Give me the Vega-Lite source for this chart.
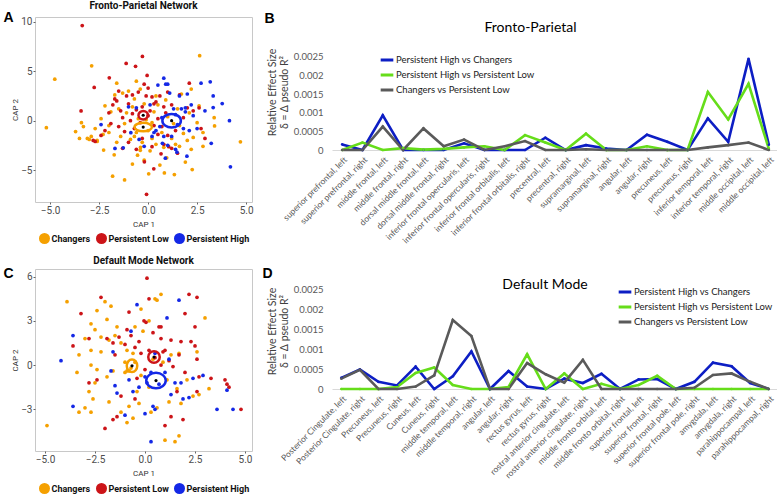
{
  "$schema": "https://vega.github.io/schema/vega-lite/v6.json",
  "autosize": {"type": "pad"},
  "padding": {"left": 2, "top": 0, "right": 0, "bottom": 0},
  "background": "white",
  "columns": 2,
  "bounds": "flush",
  "align": "each",
  "spacing": {"row": 67, "column": 80},
  "resolve": {"scale": {"color": "independent"}, "legend": {"color": "independent"}},
  "config": {"view": {"stroke": null}, "axis": {"grid": false}},
  "datasets": {
    "fpPoints": [
      {"x":-4.76,"y":4.2,"group":"Changers"},{"x":-5.19,"y":-0.71,"group":"Changers"},{"x":-2.88,"y":5.56,"group":"Changers"},{"x":2.63,"y":6.58,"group":"Changers"},{"x":4.71,"y":-2.14,"group":"Changers"},{"x":3.39,"y":-0.54,"group":"Changers"},{"x":3.37,"y":0.3,"group":"Changers"},{"x":2.25,"y":-4.95,"group":"Changers"},{"x":1.34,"y":-5.46,"group":"Changers"},{"x":0.83,"y":-5.29,"group":"Changers"},{"x":0.03,"y":-5.39,"group":"Changers"},{"x":-1.81,"y":-5.63,"group":"Changers"},{"x":-1.2,"y":-6.0,"group":"Changers"},{"x":-1.73,"y":-3.46,"group":"Changers"},{"x":-2.27,"y":-2.98,"group":"Changers"},{"x":-0.54,"y":-3.5,"group":"Changers"},{"x":0.95,"y":-3.76,"group":"Changers"},{"x":0.1,"y":-3.05,"group":"Changers"},{"x":-0.39,"y":-2.71,"group":"Changers"},{"x":-3.7,"y":-1.1,"group":"Changers"},{"x":-3.4,"y":-0.2,"group":"Changers"},{"x":-3.3,"y":-0.6,"group":"Changers"},{"x":-3.1,"y":-1.8,"group":"Changers"},{"x":-2.9,"y":-1.6,"group":"Changers"},{"x":-2.7,"y":-0.8,"group":"Changers"},{"x":-2.6,"y":-2.0,"group":"Changers"},{"x":-2.4,"y":0.2,"group":"Changers"},{"x":-2.3,"y":-1.4,"group":"Changers"},{"x":-2.2,"y":1.5,"group":"Changers"},{"x":-2.0,"y":-0.5,"group":"Changers"},{"x":-1.9,"y":0.9,"group":"Changers"},{"x":-1.7,"y":2.6,"group":"Changers"},{"x":-1.5,"y":1.2,"group":"Changers"},{"x":-1.4,"y":-1.6,"group":"Changers"},{"x":-1.3,"y":2.8,"group":"Changers"},{"x":-1.2,"y":-0.3,"group":"Changers"},{"x":-1.0,"y":3.0,"group":"Changers"},{"x":-0.9,"y":-1.9,"group":"Changers"},{"x":-0.8,"y":1.4,"group":"Changers"},{"x":-0.7,"y":2.2,"group":"Changers"},{"x":-0.6,"y":-1.2,"group":"Changers"},{"x":-0.5,"y":0.2,"group":"Changers"},{"x":-0.4,"y":3.2,"group":"Changers"},{"x":-0.3,"y":-2.2,"group":"Changers"},{"x":-0.2,"y":1.7,"group":"Changers"},{"x":0.0,"y":-1.0,"group":"Changers"},{"x":0.2,"y":-1.8,"group":"Changers"},{"x":0.3,"y":0.9,"group":"Changers"},{"x":0.4,"y":-2.4,"group":"Changers"},{"x":0.5,"y":1.6,"group":"Changers"},{"x":0.7,"y":-1.2,"group":"Changers"},{"x":0.8,"y":-2.7,"group":"Changers"},{"x":1.0,"y":0.4,"group":"Changers"},{"x":1.2,"y":-1.8,"group":"Changers"},{"x":1.4,"y":-2.4,"group":"Changers"},{"x":1.5,"y":1.2,"group":"Changers"},{"x":1.6,"y":-0.5,"group":"Changers"},{"x":1.7,"y":2.7,"group":"Changers"},{"x":1.8,"y":-1.3,"group":"Changers"},{"x":2.0,"y":-2.0,"group":"Changers"},{"x":2.1,"y":0.8,"group":"Changers"},{"x":2.2,"y":3.2,"group":"Changers"},{"x":2.3,"y":-1.7,"group":"Changers"},{"x":2.5,"y":-0.2,"group":"Changers"},{"x":2.6,"y":1.5,"group":"Changers"},{"x":2.8,"y":-1.2,"group":"Changers"},{"x":2.2,"y":-2.9,"group":"Changers"},{"x":1.9,"y":-4.2,"group":"Changers"},{"x":0.6,"y":-4.5,"group":"Changers"},{"x":-0.8,"y":-4.4,"group":"Changers"},{"x":-1.6,"y":-2.2,"group":"Changers"},{"x":-2.6,"y":-2.1,"group":"Changers"},{"x":-3.0,"y":-1.9,"group":"Changers"},{"x":-3.5,"y":-1.8,"group":"Changers"},{"x":0.2,"y":-0.2,"group":"Changers"},{"x":-0.1,"y":0.1,"group":"Changers"},{"x":-1.1,"y":0.8,"group":"Changers"},{"x":0.9,"y":2.1,"group":"Changers"},{"x":1.3,"y":-0.3,"group":"Changers"},{"x":0.4,"y":2.5,"group":"Changers"},{"x":-0.6,"y":4.0,"group":"Changers"},{"x":-1.6,"y":3.8,"group":"Changers"},{"x":-2.0,"y":-1.2,"group":"Changers"},{"x":-0.2,"y":-4.0,"group":"Changers"},{"x":1.6,"y":-2.6,"group":"Changers"},{"x":2.8,"y":-2.6,"group":"Changers"},{"x":-0.4,"y":-3.0,"group":"Changers"},{"x":-0.7,"y":-1.6,"group":"Changers"},
      {"x":-3.36,"y":9.63,"group":"Persistent Low"},{"x":-0.29,"y":6.5,"group":"Persistent Low"},{"x":-1.12,"y":5.8,"group":"Persistent Low"},{"x":-0.64,"y":5.5,"group":"Persistent Low"},{"x":-1.98,"y":4.34,"group":"Persistent Low"},{"x":-0.05,"y":4.58,"group":"Persistent Low"},{"x":-2.75,"y":3.36,"group":"Persistent Low"},{"x":-3.42,"y":0.98,"group":"Persistent Low"},{"x":0.29,"y":-4.88,"group":"Persistent Low"},{"x":-0.19,"y":-4.17,"group":"Persistent Low"},{"x":-0.08,"y":-7.46,"group":"Persistent Low"},{"x":0.66,"y":-3.36,"group":"Persistent Low"},{"x":1.05,"y":-2.64,"group":"Persistent Low"},{"x":0.2,"y":-2.64,"group":"Persistent Low"},{"x":-2.8,"y":-2.0,"group":"Persistent Low"},{"x":-2.7,"y":-2.1,"group":"Persistent Low"},{"x":-2.2,"y":-1.0,"group":"Persistent Low"},{"x":-2.0,"y":0.8,"group":"Persistent Low"},{"x":-1.9,"y":-0.3,"group":"Persistent Low"},{"x":-1.8,"y":1.6,"group":"Persistent Low"},{"x":-1.7,"y":2.2,"group":"Persistent Low"},{"x":-1.6,"y":2.0,"group":"Persistent Low"},{"x":-1.5,"y":-0.6,"group":"Persistent Low"},{"x":-1.4,"y":1.0,"group":"Persistent Low"},{"x":-1.3,"y":0.3,"group":"Persistent Low"},{"x":-1.2,"y":-1.1,"group":"Persistent Low"},{"x":-1.1,"y":2.5,"group":"Persistent Low"},{"x":-1.0,"y":1.7,"group":"Persistent Low"},{"x":-0.9,"y":0.0,"group":"Persistent Low"},{"x":-0.8,"y":2.6,"group":"Persistent Low"},{"x":-0.7,"y":-0.8,"group":"Persistent Low"},{"x":-0.6,"y":1.1,"group":"Persistent Low"},{"x":-0.5,"y":2.9,"group":"Persistent Low"},{"x":-0.4,"y":-0.2,"group":"Persistent Low"},{"x":-0.3,"y":1.4,"group":"Persistent Low"},{"x":-0.2,"y":3.7,"group":"Persistent Low"},{"x":-0.1,"y":2.5,"group":"Persistent Low"},{"x":0.0,"y":0.5,"group":"Persistent Low"},{"x":0.1,"y":1.0,"group":"Persistent Low"},{"x":0.2,"y":2.4,"group":"Persistent Low"},{"x":0.3,"y":-0.5,"group":"Persistent Low"},{"x":0.4,"y":1.9,"group":"Persistent Low"},{"x":0.5,"y":0.2,"group":"Persistent Low"},{"x":0.6,"y":2.5,"group":"Persistent Low"},{"x":0.7,"y":-0.6,"group":"Persistent Low"},{"x":0.8,"y":1.4,"group":"Persistent Low"},{"x":0.9,"y":0.8,"group":"Persistent Low"},{"x":1.0,"y":-1.5,"group":"Persistent Low"},{"x":1.2,"y":1.6,"group":"Persistent Low"},{"x":1.4,"y":-1.0,"group":"Persistent Low"},{"x":1.6,"y":2.6,"group":"Persistent Low"},{"x":1.8,"y":0.3,"group":"Persistent Low"},{"x":2.0,"y":1.3,"group":"Persistent Low"},{"x":2.1,"y":3.8,"group":"Persistent Low"},{"x":2.3,"y":1.0,"group":"Persistent Low"},{"x":2.7,"y":-0.8,"group":"Persistent Low"},{"x":2.9,"y":-1.8,"group":"Persistent Low"},{"x":0.8,"y":-2.4,"group":"Persistent Low"},{"x":1.5,"y":-3.3,"group":"Persistent Low"},{"x":-0.6,"y":-2.9,"group":"Persistent Low"},{"x":-1.0,"y":-2.2,"group":"Persistent Low"},{"x":-2.4,"y":-1.5,"group":"Persistent Low"},{"x":-1.3,"y":-2.8,"group":"Persistent Low"},{"x":0.5,"y":-1.4,"group":"Persistent Low"},{"x":-0.3,"y":-1.8,"group":"Persistent Low"},{"x":1.2,"y":-2.8,"group":"Persistent Low"},{"x":2.6,"y":1.3,"group":"Persistent Low"},{"x":0.0,"y":3.3,"group":"Persistent Low"},{"x":-1.5,"y":3.0,"group":"Persistent Low"},{"x":-0.8,"y":0.7,"group":"Persistent Low"},{"x":1.0,"y":2.9,"group":"Persistent Low"},{"x":0.3,"y":1.7,"group":"Persistent Low"},
      {"x":4.15,"y":0.0,"group":"Persistent High"},{"x":4.2,"y":-4.68,"group":"Persistent High"},{"x":3.17,"y":3.93,"group":"Persistent High"},{"x":3.78,"y":1.73,"group":"Persistent High"},{"x":3.32,"y":1.32,"group":"Persistent High"},{"x":3.32,"y":2.5,"group":"Persistent High"},{"x":3.22,"y":-2.3,"group":"Persistent High"},{"x":1.98,"y":-3.6,"group":"Persistent High"},{"x":-1.69,"y":-2.81,"group":"Persistent High"},{"x":-1.27,"y":-2.75,"group":"Persistent High"},{"x":0.88,"y":-3.8,"group":"Persistent High"},{"x":1.47,"y":-3.19,"group":"Persistent High"},{"x":0.73,"y":-2.3,"group":"Persistent High"},{"x":-0.46,"y":-1.9,"group":"Persistent High"},{"x":-0.88,"y":-1.22,"group":"Persistent High"},{"x":-2.4,"y":-0.4,"group":"Persistent High"},{"x":-1.0,"y":1.4,"group":"Persistent High"},{"x":-0.6,"y":1.3,"group":"Persistent High"},{"x":0.1,"y":1.6,"group":"Persistent High"},{"x":0.3,"y":-1.2,"group":"Persistent High"},{"x":0.4,"y":-1.0,"group":"Persistent High"},{"x":0.6,"y":-0.6,"group":"Persistent High"},{"x":0.5,"y":3.6,"group":"Persistent High"},{"x":0.8,"y":4.3,"group":"Persistent High"},{"x":0.9,"y":3.7,"group":"Persistent High"},{"x":1.0,"y":3.7,"group":"Persistent High"},{"x":1.1,"y":2.8,"group":"Persistent High"},{"x":1.3,"y":1.2,"group":"Persistent High"},{"x":1.4,"y":0.6,"group":"Persistent High"},{"x":1.5,"y":-0.4,"group":"Persistent High"},{"x":1.6,"y":2.5,"group":"Persistent High"},{"x":1.7,"y":1.2,"group":"Persistent High"},{"x":1.8,"y":-0.8,"group":"Persistent High"},{"x":1.9,"y":0.9,"group":"Persistent High"},{"x":2.0,"y":2.7,"group":"Persistent High"},{"x":2.1,"y":-1.0,"group":"Persistent High"},{"x":2.3,"y":0.5,"group":"Persistent High"},{"x":2.5,"y":-0.8,"group":"Persistent High"},{"x":2.7,"y":3.8,"group":"Persistent High"},{"x":2.9,"y":1.0,"group":"Persistent High"},{"x":1.2,"y":-1.6,"group":"Persistent High"},{"x":0.8,"y":-1.6,"group":"Persistent High"},{"x":0.2,"y":-1.6,"group":"Persistent High"},{"x":-0.2,"y":-2.6,"group":"Persistent High"},{"x":1.0,"y":-2.5,"group":"Persistent High"},{"x":1.9,"y":1.3,"group":"Persistent High"},{"x":0.7,"y":0.3,"group":"Persistent High"},{"x":2.2,"y":1.6,"group":"Persistent High"},{"x":1.4,"y":-2.9,"group":"Persistent High"}
    ],
    "fpCentroids": [
      {"x":-0.25,"y":-0.65,"cluster":"Changers"},{"x":-0.25,"y":0.55,"cluster":"Persistent Low"},{"x":1.2,"y":0.0,"cluster":"Persistent High"}
    ],
    "dmPoints": [
      {"x":-4.9,"y":-4.1,"group":"Changers"},{"x":-3.9,"y":4.3,"group":"Changers"},{"x":-2.0,"y":4.3,"group":"Changers"},{"x":-2.4,"y":3.7,"group":"Changers"},{"x":-2.7,"y":2.8,"group":"Changers"},{"x":-2.5,"y":2.4,"group":"Changers"},{"x":-3.0,"y":1.8,"group":"Changers"},{"x":-2.2,"y":1.9,"group":"Changers"},{"x":-2.7,"y":1.0,"group":"Changers"},{"x":-3.3,"y":0.7,"group":"Changers"},{"x":-3.4,"y":-0.5,"group":"Changers"},{"x":-2.7,"y":0.0,"group":"Changers"},{"x":-2.2,"y":0.9,"group":"Changers"},{"x":-1.8,"y":1.7,"group":"Changers"},{"x":-1.5,"y":2.0,"group":"Changers"},{"x":-1.2,"y":1.5,"group":"Changers"},{"x":-0.9,"y":1.0,"group":"Changers"},{"x":-0.6,"y":0.8,"group":"Changers"},{"x":-1.0,"y":0.2,"group":"Changers"},{"x":-1.6,"y":-0.4,"group":"Changers"},{"x":-1.9,"y":-0.8,"group":"Changers"},{"x":-2.5,"y":-1.2,"group":"Changers"},{"x":-2.8,"y":-1.8,"group":"Changers"},{"x":-2.6,"y":-2.3,"group":"Changers"},{"x":-3.0,"y":-2.9,"group":"Changers"},{"x":-3.3,"y":-3.2,"group":"Changers"},{"x":-2.7,"y":-3.2,"group":"Changers"},{"x":-1.8,"y":-2.5,"group":"Changers"},{"x":-1.2,"y":-3.2,"group":"Changers"},{"x":-0.6,"y":-3.6,"group":"Changers"},{"x":-0.8,"y":-2.8,"group":"Changers"},{"x":-0.3,"y":-2.6,"group":"Changers"},{"x":-0.9,"y":-3.9,"group":"Changers"},{"x":1.0,"y":-5.1,"group":"Changers"},{"x":1.5,"y":-5.2,"group":"Changers"},{"x":1.7,"y":-4.8,"group":"Changers"},{"x":0.3,"y":-3.2,"group":"Changers"},{"x":0.6,"y":-2.9,"group":"Changers"},{"x":1.2,"y":-2.5,"group":"Changers"},{"x":1.8,"y":-2.6,"group":"Changers"},{"x":2.4,"y":-2.1,"group":"Changers"},{"x":3.2,"y":-1.6,"group":"Changers"},{"x":2.1,"y":-1.0,"group":"Changers"},{"x":1.6,"y":-1.6,"group":"Changers"},{"x":1.1,"y":-1.0,"group":"Changers"},{"x":0.2,"y":-1.5,"group":"Changers"},{"x":-0.4,"y":-1.8,"group":"Changers"},{"x":-0.2,"y":-0.7,"group":"Changers"},{"x":-1.0,"y":-0.5,"group":"Changers"},{"x":-0.9,"y":-0.4,"group":"Changers"},{"x":-0.7,"y":-0.2,"group":"Changers"},{"x":0.4,"y":0.4,"group":"Changers"},{"x":0.9,"y":0.2,"group":"Changers"},{"x":1.3,"y":0.7,"group":"Changers"},{"x":1.7,"y":0.8,"group":"Changers"},{"x":2.6,"y":0.9,"group":"Changers"},{"x":3.0,"y":3.2,"group":"Changers"},{"x":0.8,"y":4.8,"group":"Changers"},{"x":0.6,"y":4.4,"group":"Changers"},{"x":0.5,"y":4.5,"group":"Changers"},{"x":-0.2,"y":3.8,"group":"Changers"},{"x":0.2,"y":3.0,"group":"Changers"},{"x":-0.5,"y":2.6,"group":"Changers"},{"x":-0.1,"y":2.3,"group":"Changers"},{"x":-1.7,"y":4.0,"group":"Changers"},{"x":-1.9,"y":3.1,"group":"Changers"},{"x":-1.4,"y":2.6,"group":"Changers"},{"x":-0.8,"y":-0.4,"group":"Changers"},{"x":-0.5,"y":0.2,"group":"Changers"},{"x":2.7,"y":-2.0,"group":"Changers"},{"x":-2.4,"y":-0.3,"group":"Changers"},
      {"x":0.1,"y":5.9,"group":"Persistent Low"},{"x":2.2,"y":4.8,"group":"Persistent Low"},{"x":2.6,"y":4.6,"group":"Persistent Low"},{"x":-2.2,"y":4.6,"group":"Persistent Low"},{"x":0.2,"y":4.5,"group":"Persistent Low"},{"x":-3.2,"y":3.5,"group":"Persistent Low"},{"x":-0.8,"y":3.6,"group":"Persistent Low"},{"x":-0.05,"y":3.0,"group":"Persistent Low"},{"x":0.05,"y":2.9,"group":"Persistent Low"},{"x":0.7,"y":2.6,"group":"Persistent Low"},{"x":0.8,"y":2.6,"group":"Persistent Low"},{"x":2.0,"y":3.5,"group":"Persistent Low"},{"x":2.5,"y":2.6,"group":"Persistent Low"},{"x":-1.9,"y":1.8,"group":"Persistent Low"},{"x":-2.8,"y":1.8,"group":"Persistent Low"},{"x":-3.6,"y":1.3,"group":"Persistent Low"},{"x":-1.6,"y":1.5,"group":"Persistent Low"},{"x":-1.3,"y":1.9,"group":"Persistent Low"},{"x":-1.0,"y":1.4,"group":"Persistent Low"},{"x":-0.7,"y":2.0,"group":"Persistent Low"},{"x":-0.3,"y":1.6,"group":"Persistent Low"},{"x":0.4,"y":2.2,"group":"Persistent Low"},{"x":0.8,"y":1.8,"group":"Persistent Low"},{"x":1.3,"y":1.7,"group":"Persistent Low"},{"x":1.8,"y":1.6,"group":"Persistent Low"},{"x":2.3,"y":1.6,"group":"Persistent Low"},{"x":2.5,"y":1.3,"group":"Persistent Low"},{"x":-0.5,"y":1.2,"group":"Persistent Low"},{"x":0.2,"y":1.0,"group":"Persistent Low"},{"x":0.9,"y":0.9,"group":"Persistent Low"},{"x":1.2,"y":0.3,"group":"Persistent Low"},{"x":1.7,"y":0.7,"group":"Persistent Low"},{"x":2.6,"y":0.4,"group":"Persistent Low"},{"x":0.8,"y":0.0,"group":"Persistent Low"},{"x":1.4,"y":-0.1,"group":"Persistent Low"},{"x":2.0,"y":-0.5,"group":"Persistent Low"},{"x":2.7,"y":-0.8,"group":"Persistent Low"},{"x":3.3,"y":-0.9,"group":"Persistent Low"},{"x":4.0,"y":-1.0,"group":"Persistent Low"},{"x":4.1,"y":-1.3,"group":"Persistent Low"},{"x":4.2,"y":-1.5,"group":"Persistent Low"},{"x":4.8,"y":-3.0,"group":"Persistent Low"},{"x":1.3,"y":-3.5,"group":"Persistent Low"},{"x":1.9,"y":-3.7,"group":"Persistent Low"},{"x":1.0,"y":-4.1,"group":"Persistent Low"},{"x":-2.0,"y":-4.3,"group":"Persistent Low"},{"x":-1.4,"y":-3.5,"group":"Persistent Low"},{"x":-1.6,"y":-3.7,"group":"Persistent Low"},{"x":-0.5,"y":-2.3,"group":"Persistent Low"},{"x":-1.2,"y":-2.1,"group":"Persistent Low"},{"x":-2.4,"y":-1.0,"group":"Persistent Low"},{"x":-2.8,"y":-1.2,"group":"Persistent Low"},{"x":1.6,"y":-1.8,"group":"Persistent Low"},{"x":2.6,"y":-1.8,"group":"Persistent Low"},{"x":-0.4,"y":-0.9,"group":"Persistent Low"},{"x":0.0,"y":-0.3,"group":"Persistent Low"},{"x":1.0,"y":1.0,"group":"Persistent Low"},{"x":-1.5,"y":0.7,"group":"Persistent Low"},{"x":-0.9,"y":2.4,"group":"Persistent Low"},{"x":0.5,"y":0.5,"group":"Persistent Low"},{"x":-0.2,"y":0.8,"group":"Persistent Low"},
      {"x":-4.2,"y":0.3,"group":"Persistent High"},{"x":-3.6,"y":2.0,"group":"Persistent High"},{"x":-3.6,"y":-2.8,"group":"Persistent High"},{"x":-0.4,"y":4.1,"group":"Persistent High"},{"x":1.1,"y":3.2,"group":"Persistent High"},{"x":1.7,"y":4.4,"group":"Persistent High"},{"x":-0.7,"y":2.3,"group":"Persistent High"},{"x":-1.6,"y":0.9,"group":"Persistent High"},{"x":-1.7,"y":-0.4,"group":"Persistent High"},{"x":-1.5,"y":-1.4,"group":"Persistent High"},{"x":-1.4,"y":-1.9,"group":"Persistent High"},{"x":-1.0,"y":-3.4,"group":"Persistent High"},{"x":-0.8,"y":-1.0,"group":"Persistent High"},{"x":-0.3,"y":-1.5,"group":"Persistent High"},{"x":-0.6,"y":-1.8,"group":"Persistent High"},{"x":0.0,"y":-3.3,"group":"Persistent High"},{"x":0.4,"y":-2.8,"group":"Persistent High"},{"x":0.5,"y":-3.0,"group":"Persistent High"},{"x":0.1,"y":-1.2,"group":"Persistent High"},{"x":0.3,"y":-0.5,"group":"Persistent High"},{"x":0.5,"y":0.8,"group":"Persistent High"},{"x":1.0,"y":-0.5,"group":"Persistent High"},{"x":1.3,"y":-2.0,"group":"Persistent High"},{"x":1.5,"y":-1.2,"group":"Persistent High"},{"x":1.8,"y":-1.2,"group":"Persistent High"},{"x":1.9,"y":-2.3,"group":"Persistent High"},{"x":2.2,"y":-2.2,"group":"Persistent High"},{"x":2.9,"y":-0.7,"group":"Persistent High"},{"x":3.6,"y":-3.0,"group":"Persistent High"},{"x":4.1,"y":-1.7,"group":"Persistent High"},{"x":4.4,"y":-3.0,"group":"Persistent High"},{"x":0.3,"y":-5.2,"group":"Persistent High"},{"x":2.4,"y":-0.9,"group":"Persistent High"},{"x":0.7,"y":-1.3,"group":"Persistent High"},{"x":0.0,"y":-0.8,"group":"Persistent High"},{"x":1.2,"y":0.4,"group":"Persistent High"}
    ],
    "dmCentroids": [
      {"x":-0.65,"y":-0.05,"cluster":"Changers"},{"x":0.45,"y":0.55,"cluster":"Persistent Low"},{"x":0.55,"y":-1.05,"cluster":"Persistent High"}
    ],
    "fpEffects": [
      {"i":1,"region":"superior prefrontal, left","comparison":"Persistent High vs Changers","value":0.00015},{"i":1,"region":"superior prefrontal, left","comparison":"Persistent High vs Persistent Low","value":0},{"i":1,"region":"superior prefrontal, left","comparison":"Changers vs Persistent Low","value":0},
      {"i":2,"region":"superior prefrontal, right","comparison":"Persistent High vs Changers","value":0},{"i":2,"region":"superior prefrontal, right","comparison":"Persistent High vs Persistent Low","value":0.0002},{"i":2,"region":"superior prefrontal, right","comparison":"Changers vs Persistent Low","value":0},
      {"i":3,"region":"middle frontal, left","comparison":"Persistent High vs Changers","value":0.00093},{"i":3,"region":"middle frontal, left","comparison":"Persistent High vs Persistent Low","value":0},{"i":3,"region":"middle frontal, left","comparison":"Changers vs Persistent Low","value":0.00063},
      {"i":4,"region":"middle frontal, right","comparison":"Persistent High vs Changers","value":0},{"i":4,"region":"middle frontal, right","comparison":"Persistent High vs Persistent Low","value":0.00005},{"i":4,"region":"middle frontal, right","comparison":"Changers vs Persistent Low","value":0},
      {"i":5,"region":"dorsal middle frontal, left","comparison":"Persistent High vs Changers","value":0},{"i":5,"region":"dorsal middle frontal, left","comparison":"Persistent High vs Persistent Low","value":0.00001},{"i":5,"region":"dorsal middle frontal, left","comparison":"Changers vs Persistent Low","value":0.00058},
      {"i":6,"region":"dorsal middle frontal, right","comparison":"Persistent High vs Changers","value":0},{"i":6,"region":"dorsal middle frontal, right","comparison":"Persistent High vs Persistent Low","value":0.00003},{"i":6,"region":"dorsal middle frontal, right","comparison":"Changers vs Persistent Low","value":0.0001},
      {"i":7,"region":"inferior frontal opercularis, left","comparison":"Persistent High vs Changers","value":0.00018},{"i":7,"region":"inferior frontal opercularis, left","comparison":"Persistent High vs Persistent Low","value":0.00007},{"i":7,"region":"inferior frontal opercularis, left","comparison":"Changers vs Persistent Low","value":0.00028},
      {"i":8,"region":"inferior frontal opercularis, right","comparison":"Persistent High vs Changers","value":0},{"i":8,"region":"inferior frontal opercularis, right","comparison":"Persistent High vs Persistent Low","value":0.0001},{"i":8,"region":"inferior frontal opercularis, right","comparison":"Changers vs Persistent Low","value":0},
      {"i":9,"region":"inferior frontal orbitalis, left","comparison":"Persistent High vs Changers","value":0},{"i":9,"region":"inferior frontal orbitalis, left","comparison":"Persistent High vs Persistent Low","value":0},{"i":9,"region":"inferior frontal orbitalis, left","comparison":"Changers vs Persistent Low","value":0.0001},
      {"i":10,"region":"inferior frontal orbitalis, right","comparison":"Persistent High vs Changers","value":0},{"i":10,"region":"inferior frontal orbitalis, right","comparison":"Persistent High vs Persistent Low","value":0.0004},{"i":10,"region":"inferior frontal orbitalis, right","comparison":"Changers vs Persistent Low","value":0.00024},
      {"i":11,"region":"precentral, left","comparison":"Persistent High vs Changers","value":0.00033},{"i":11,"region":"precentral, left","comparison":"Persistent High vs Persistent Low","value":0.0002},{"i":11,"region":"precentral, left","comparison":"Changers vs Persistent Low","value":0},
      {"i":12,"region":"precentral, right","comparison":"Persistent High vs Changers","value":0},{"i":12,"region":"precentral, right","comparison":"Persistent High vs Persistent Low","value":0},{"i":12,"region":"precentral, right","comparison":"Changers vs Persistent Low","value":0},
      {"i":13,"region":"supramarginal, left","comparison":"Persistent High vs Changers","value":0.00013},{"i":13,"region":"supramarginal, left","comparison":"Persistent High vs Persistent Low","value":0.00044},{"i":13,"region":"supramarginal, left","comparison":"Changers vs Persistent Low","value":0.00002},
      {"i":14,"region":"supramarginal, right","comparison":"Persistent High vs Changers","value":0.00004},{"i":14,"region":"supramarginal, right","comparison":"Persistent High vs Persistent Low","value":0},{"i":14,"region":"supramarginal, right","comparison":"Changers vs Persistent Low","value":0},
      {"i":15,"region":"angular, left","comparison":"Persistent High vs Changers","value":0},{"i":15,"region":"angular, left","comparison":"Persistent High vs Persistent Low","value":0},{"i":15,"region":"angular, left","comparison":"Changers vs Persistent Low","value":0},
      {"i":16,"region":"angular, right","comparison":"Persistent High vs Changers","value":0.00041},{"i":16,"region":"angular, right","comparison":"Persistent High vs Persistent Low","value":0.0001},{"i":16,"region":"angular, right","comparison":"Changers vs Persistent Low","value":0},
      {"i":17,"region":"precuneus, left","comparison":"Persistent High vs Changers","value":0.00022},{"i":17,"region":"precuneus, left","comparison":"Persistent High vs Persistent Low","value":0},{"i":17,"region":"precuneus, left","comparison":"Changers vs Persistent Low","value":0},
      {"i":18,"region":"precuneus, right","comparison":"Persistent High vs Changers","value":0},{"i":18,"region":"precuneus, right","comparison":"Persistent High vs Persistent Low","value":0},{"i":18,"region":"precuneus, right","comparison":"Changers vs Persistent Low","value":0},
      {"i":19,"region":"inferior temporal, left","comparison":"Persistent High vs Changers","value":0.00085},{"i":19,"region":"inferior temporal, left","comparison":"Persistent High vs Persistent Low","value":0.00156},{"i":19,"region":"inferior temporal, left","comparison":"Changers vs Persistent Low","value":0.00007},
      {"i":20,"region":"inferior temporal, right","comparison":"Persistent High vs Changers","value":0.00022},{"i":20,"region":"inferior temporal, right","comparison":"Persistent High vs Persistent Low","value":0.00082},{"i":20,"region":"inferior temporal, right","comparison":"Changers vs Persistent Low","value":0.00013},
      {"i":21,"region":"middle occipital, left","comparison":"Persistent High vs Changers","value":0.00245},{"i":21,"region":"middle occipital, left","comparison":"Persistent High vs Persistent Low","value":0.00178},{"i":21,"region":"middle occipital, left","comparison":"Changers vs Persistent Low","value":0.0002},
      {"i":22,"region":"middle occipital, left ","comparison":"Persistent High vs Changers","value":0.00014},{"i":22,"region":"middle occipital, left ","comparison":"Persistent High vs Persistent Low","value":0.00003},{"i":22,"region":"middle occipital, left ","comparison":"Changers vs Persistent Low","value":0}
    ],
    "dmEffects": [
      {"i":1,"region":"Posterior Cingulate, left","comparison":"Persistent High vs Changers","value":0.00028},{"i":1,"region":"Posterior Cingulate, left","comparison":"Persistent High vs Persistent Low","value":0},{"i":1,"region":"Posterior Cingulate, left","comparison":"Changers vs Persistent Low","value":0.00026},
      {"i":2,"region":"Posterior Cingulate, right","comparison":"Persistent High vs Changers","value":0.00049},{"i":2,"region":"Posterior Cingulate, right","comparison":"Persistent High vs Persistent Low","value":0},{"i":2,"region":"Posterior Cingulate, right","comparison":"Changers vs Persistent Low","value":0.00048},
      {"i":3,"region":"Precuneus, left","comparison":"Persistent High vs Changers","value":0.00018},{"i":3,"region":"Precuneus, left","comparison":"Persistent High vs Persistent Low","value":0},{"i":3,"region":"Precuneus, left","comparison":"Changers vs Persistent Low","value":0},
      {"i":4,"region":"Precuneus, right","comparison":"Persistent High vs Changers","value":0.00009},{"i":4,"region":"Precuneus, right","comparison":"Persistent High vs Persistent Low","value":0.00005},{"i":4,"region":"Precuneus, right","comparison":"Changers vs Persistent Low","value":0},
      {"i":5,"region":"Cuneus, left","comparison":"Persistent High vs Changers","value":0.00056},{"i":5,"region":"Cuneus, left","comparison":"Persistent High vs Persistent Low","value":0.0004},{"i":5,"region":"Cuneus, left","comparison":"Changers vs Persistent Low","value":0.00006},
      {"i":6,"region":"Cuneus, right","comparison":"Persistent High vs Changers","value":0},{"i":6,"region":"Cuneus, right","comparison":"Persistent High vs Persistent Low","value":0.00054},{"i":6,"region":"Cuneus, right","comparison":"Changers vs Persistent Low","value":0.00034},
      {"i":7,"region":"middle temporal, left","comparison":"Persistent High vs Changers","value":0.00032},{"i":7,"region":"middle temporal, left","comparison":"Persistent High vs Persistent Low","value":0.0001},{"i":7,"region":"middle temporal, left","comparison":"Changers vs Persistent Low","value":0.00173},
      {"i":8,"region":"middle temporal, right","comparison":"Persistent High vs Changers","value":0.00094},{"i":8,"region":"middle temporal, right","comparison":"Persistent High vs Persistent Low","value":0},{"i":8,"region":"middle temporal, right","comparison":"Changers vs Persistent Low","value":0.00133},
      {"i":9,"region":"angular, left","comparison":"Persistent High vs Changers","value":0},{"i":9,"region":"angular, left","comparison":"Persistent High vs Persistent Low","value":0},{"i":9,"region":"angular, left","comparison":"Changers vs Persistent Low","value":0},
      {"i":10,"region":"angular, right","comparison":"Persistent High vs Changers","value":0.00045},{"i":10,"region":"angular, right","comparison":"Persistent High vs Persistent Low","value":0.00005},{"i":10,"region":"angular, right","comparison":"Changers vs Persistent Low","value":0},
      {"i":11,"region":"rectus gyrus, left","comparison":"Persistent High vs Changers","value":0.00006},{"i":11,"region":"rectus gyrus, left","comparison":"Persistent High vs Persistent Low","value":0.00087},{"i":11,"region":"rectus gyrus, left","comparison":"Changers vs Persistent Low","value":0.00065},
      {"i":12,"region":"rectus gyrus, right","comparison":"Persistent High vs Changers","value":0},{"i":12,"region":"rectus gyrus, right","comparison":"Persistent High vs Persistent Low","value":0},{"i":12,"region":"rectus gyrus, right","comparison":"Changers vs Persistent Low","value":0.00037},
      {"i":13,"region":"rostral anterior cingulate, left","comparison":"Persistent High vs Changers","value":0.00026},{"i":13,"region":"rostral anterior cingulate, left","comparison":"Persistent High vs Persistent Low","value":0.00039},{"i":13,"region":"rostral anterior cingulate, left","comparison":"Changers vs Persistent Low","value":0.00016},
      {"i":14,"region":"rostral anterior cingulate, right","comparison":"Persistent High vs Changers","value":0.00015},{"i":14,"region":"rostral anterior cingulate, right","comparison":"Persistent High vs Persistent Low","value":0},{"i":14,"region":"rostral anterior cingulate, right","comparison":"Changers vs Persistent Low","value":0.00073},
      {"i":15,"region":"middle fronto orbital, left","comparison":"Persistent High vs Changers","value":0.00038},{"i":15,"region":"middle fronto orbital, left","comparison":"Persistent High vs Persistent Low","value":0.00013},{"i":15,"region":"middle fronto orbital, left","comparison":"Changers vs Persistent Low","value":0},
      {"i":16,"region":"middle fronto orbital, right","comparison":"Persistent High vs Changers","value":0},{"i":16,"region":"middle fronto orbital, right","comparison":"Persistent High vs Persistent Low","value":0},{"i":16,"region":"middle fronto orbital, right","comparison":"Changers vs Persistent Low","value":0},
      {"i":17,"region":"superior frontal, left","comparison":"Persistent High vs Changers","value":0.00024},{"i":17,"region":"superior frontal, left","comparison":"Persistent High vs Persistent Low","value":0.0001},{"i":17,"region":"superior frontal, left","comparison":"Changers vs Persistent Low","value":0},
      {"i":18,"region":"superior frontal, right","comparison":"Persistent High vs Changers","value":0.00025},{"i":18,"region":"superior frontal, right","comparison":"Persistent High vs Persistent Low","value":0.00033},{"i":18,"region":"superior frontal, right","comparison":"Changers vs Persistent Low","value":0},
      {"i":19,"region":"superior frontal pole, left","comparison":"Persistent High vs Changers","value":0},{"i":19,"region":"superior frontal pole, left","comparison":"Persistent High vs Persistent Low","value":0},{"i":19,"region":"superior frontal pole, left","comparison":"Changers vs Persistent Low","value":0},
      {"i":20,"region":"superior frontal pole, right","comparison":"Persistent High vs Changers","value":0.00018},{"i":20,"region":"superior frontal pole, right","comparison":"Persistent High vs Persistent Low","value":0},{"i":20,"region":"superior frontal pole, right","comparison":"Changers vs Persistent Low","value":0.00003},
      {"i":21,"region":"amygdala, left","comparison":"Persistent High vs Changers","value":0.00066},{"i":21,"region":"amygdala, left","comparison":"Persistent High vs Persistent Low","value":0},{"i":21,"region":"amygdala, left","comparison":"Changers vs Persistent Low","value":0.00035},
      {"i":22,"region":"amygdala, right","comparison":"Persistent High vs Changers","value":0.00057},{"i":22,"region":"amygdala, right","comparison":"Persistent High vs Persistent Low","value":0},{"i":22,"region":"amygdala, right","comparison":"Changers vs Persistent Low","value":0.00039},
      {"i":23,"region":"parahippocampal, left","comparison":"Persistent High vs Changers","value":0.00015},{"i":23,"region":"parahippocampal, left","comparison":"Persistent High vs Persistent Low","value":0},{"i":23,"region":"parahippocampal, left","comparison":"Changers vs Persistent Low","value":0.00018},
      {"i":24,"region":"parahippocampal, right","comparison":"Persistent High vs Changers","value":0},{"i":24,"region":"parahippocampal, right","comparison":"Persistent High vs Persistent Low","value":0},{"i":24,"region":"parahippocampal, right","comparison":"Changers vs Persistent Low","value":0}
    ]
  },
  "concat": [
    {
      "width": 217, "height": 185,
      "view": {"stroke": "#c8c8c8"},
      "title": {"text": "Fronto-Parietal Network", "font": "Roboto", "fontSize": 10, "fontWeight": "bold", "color": "#111", "anchor": "middle", "frame": "group", "baseline": "alphabetic", "offset": -9},
      "resolve": {"axis": {"x": "independent", "y": "independent"}},
      "layer": [
        {
          "data": {"name": "fpPoints"},
          "mark": {"type": "point", "filled": true, "size": 14, "opacity": 1},
          "encoding": {
            "x": {"field": "x", "type": "quantitative", "scale": {"domain": [-5.77, 5.3], "nice": false, "zero": false},
                  "axis": {"values": [-5, -2.5, 0, 2.5, 5], "format": ".1f", "title": "CAP 1", "titleFont": "Roboto", "titleFontSize": 8, "titleFontWeight": "normal", "titleColor": "#333", "titlePadding": 5, "labelFont": "Roboto", "labelFontSize": 10, "labelColor": "#4d4d4d", "labelPadding": 1, "tickSize": 2, "tickColor": "#666", "domain": false, "grid": false}},
            "y": {"field": "y", "type": "quantitative", "scale": {"domain": [-8.24, 10.5], "nice": false, "zero": false},
                  "axis": {"values": [-5, 0, 5, 10], "format": "d", "title": "CAP 2", "titleFont": "Roboto", "titleFontSize": 8, "titleFontWeight": "normal", "titleColor": "#333", "titlePadding": 1, "labelFont": "Roboto", "labelFontSize": 10, "labelColor": "#4d4d4d", "labelPadding": 1, "tickSize": 2, "tickColor": "#666", "domain": false, "grid": false}},
            "color": {"field": "group", "type": "nominal", "scale": {"domain": ["Changers", "Persistent Low", "Persistent High"], "range": ["#f5a000", "#cc1418", "#1428e6"]},
                      "legend": {"orient": "none", "legendX": 4, "legendY": 216, "direction": "horizontal", "title": null, "symbolType": "circle", "symbolSize": 121, "symbolOpacity": 1, "symbolStrokeWidth": 0, "labelFont": "Roboto", "labelFontSize": 9, "labelFontWeight": "bold", "labelColor": "#111", "labelOffset": 1.5, "columnPadding": 5, "padding": 0}}
          }
        },
        {
          "data": {"name": "fpCentroids"},
          "transform": [{"filter": "datum.cluster === 'Changers'"}],
          "mark": {"type": "point", "filled": false, "stroke": "#f5a000", "strokeWidth": 2.5, "opacity": 1, "size": 306,
                   "shape": "M 1 0 C 1 0.2706 0.5523 0.49 0 0.49 C -0.5523 0.49 -1 0.2706 -1 0 C -1 -0.2706 -0.5523 -0.49 0 -0.49 C 0.5523 -0.49 1 -0.2706 1 0 Z"},
          "encoding": {"x": {"field": "x", "type": "quantitative", "axis": null}, "y": {"field": "y", "type": "quantitative", "axis": null}}
        },
        {
          "data": {"name": "fpCentroids"},
          "transform": [{"filter": "datum.cluster === 'Persistent Low'"}],
          "mark": {"type": "point", "filled": false, "stroke": "#cc1418", "strokeWidth": 2.5, "opacity": 1, "size": 90,
                   "shape": "M 1 0 C 1 0.486 0.5523 0.88 0 0.88 C -0.5523 0.88 -1 0.486 -1 0 C -1 -0.486 -0.5523 -0.88 0 -0.88 C 0.5523 -0.88 1 -0.486 1 0 Z"},
          "encoding": {"x": {"field": "x", "type": "quantitative", "axis": null}, "y": {"field": "y", "type": "quantitative", "axis": null}}
        },
        {
          "data": {"name": "fpCentroids"},
          "transform": [{"filter": "datum.cluster === 'Persistent High'"}],
          "mark": {"type": "point", "filled": false, "stroke": "#1428e6", "strokeWidth": 2.5, "opacity": 1, "size": 342,
                   "shape": "M 1 0 C 1 0.4032 0.5523 0.73 0 0.73 C -0.5523 0.73 -1 0.4032 -1 0 C -1 -0.4032 -0.5523 -0.73 0 -0.73 C 0.5523 -0.73 1 -0.4032 1 0 Z"},
          "encoding": {"x": {"field": "x", "type": "quantitative", "axis": null}, "y": {"field": "y", "type": "quantitative", "axis": null}}
        },
        {
          "data": {"name": "fpCentroids"},
          "mark": {"type": "point", "filled": true, "color": "#000", "size": 10, "opacity": 1},
          "encoding": {
            "x": {"field": "x", "type": "quantitative", "axis": {"orient": "bottom", "title": "A", "labels": false, "ticks": false, "domain": false, "grid": false, "titleFont": "Liberation Sans", "titleFontSize": 14, "titleFontWeight": "bold", "titleColor": "#000", "titleX": -32, "titleY": -181, "titleAlign": "left", "titleBaseline": "alphabetic", "titleAngle": 0}},
            "y": {"field": "y", "type": "quantitative", "axis": null}
          }
        }
      ]
    },
    {
      "width": 447, "height": 133,
      "data": {"name": "fpEffects"},
      "title": {"text": "Fronto-Parietal", "font": "Lato", "fontSize": 14, "fontWeight": "normal", "color": "#000", "anchor": "middle", "frame": "group", "baseline": "alphabetic", "offset": -35, "dx": -25},
      "resolve": {"axis": {"x": "independent"}},
      "encoding": {
        "y": {"field": "value", "type": "quantitative", "scale": {"domain": [0, 0.003575], "nice": false, "zero": true},
              "axis": {"values": [0, 0.0005, 0.001, 0.0015, 0.002, 0.0025], "format": "~f", "domain": false, "ticks": false, "grid": false, "labelFont": "Lato", "labelFontSize": 9.5, "labelColor": "#595959", "labelPadding": 9,
                       "title": ["Relative Effect Size", "δ = Δ pseudo R²"], "titleFont": "Lato", "titleFontSize": 10.5, "titleFontWeight": "normal", "titleColor": "#404040", "titleX": -55, "titleY": 75, "titleLineHeight": 12}},
        "color": {"field": "comparison", "type": "nominal", "scale": {"domain": ["Persistent High vs Changers", "Persistent High vs Persistent Low", "Changers vs Persistent Low"], "range": ["#0d1ec4", "#66dd1a", "#5a5a5a"]},
                  "legend": {"orient": "none", "legendX": 47, "legendY": 35, "title": null, "direction": "vertical", "symbolType": "stroke", "symbolStrokeWidth": 3, "symbolSize": 160, "labelFont": "Lato", "labelFontSize": 9.5, "labelColor": "#222", "rowPadding": 1, "labelOffset": 1, "padding": 0}},
        "order": {"field": "i", "type": "quantitative"}
      },
      "layer": [
        {
          "mark": {"type": "line", "strokeWidth": 2.6},
          "encoding": {
            "x": {"field": "region", "type": "ordinal", "sort": null, "scale": {"type": "point", "padding": 0.5},
                  "axis": {"title": null, "labelAngle": -45, "labelFont": "Lato", "labelFontSize": 8.5, "labelColor": "#595959", "ticks": false, "domainColor": "#d9d9d9", "domainWidth": 1, "labelPadding": 5, "grid": false, "labelOverlap": false}}
          }
        },
        {
          "mark": {"type": "point", "filled": true, "size": 7, "opacity": 1},
          "encoding": {
            "x": {"field": "region", "type": "ordinal", "sort": null, "axis": {"orient": "bottom", "title": "B", "labels": false, "ticks": false, "domain": false, "grid": false, "titleFont": "Liberation Sans", "titleFontSize": 14, "titleFontWeight": "bold", "titleColor": "#000", "titleX": -68, "titleY": -128, "titleAlign": "left", "titleBaseline": "alphabetic", "titleAngle": 0}}
          }
        }
      ]
    },
    {
      "width": 217, "height": 182,
      "view": {"stroke": "#c8c8c8"},
      "title": {"text": "Default Mode Network", "font": "Roboto", "fontSize": 10, "fontWeight": "bold", "color": "#111", "anchor": "middle", "frame": "group", "baseline": "alphabetic", "offset": -8},
      "resolve": {"axis": {"x": "independent", "y": "independent"}},
      "layer": [
        {
          "data": {"name": "dmPoints"},
          "mark": {"type": "point", "filled": true, "size": 14, "opacity": 1},
          "encoding": {
            "x": {"field": "x", "type": "quantitative", "scale": {"domain": [-5.5, 5.35], "nice": false, "zero": false},
                  "axis": {"values": [-5, -2.5, 0, 2.5, 5], "format": ".1f", "title": "CAP 1", "titleFont": "Roboto", "titleFontSize": 8, "titleFontWeight": "normal", "titleColor": "#333", "titlePadding": 5, "labelFont": "Roboto", "labelFontSize": 10, "labelColor": "#4d4d4d", "labelPadding": 1, "tickSize": 2, "tickColor": "#666", "domain": false, "grid": false}},
            "y": {"field": "y", "type": "quantitative", "scale": {"domain": [-5.83, 6.52], "nice": false, "zero": false},
                  "axis": {"values": [-3, 0, 3, 6], "format": "d", "title": "CAP 2", "titleFont": "Roboto", "titleFontSize": 8, "titleFontWeight": "normal", "titleColor": "#333", "titlePadding": 1, "labelFont": "Roboto", "labelFontSize": 10, "labelColor": "#4d4d4d", "labelPadding": 1, "tickSize": 2, "tickColor": "#666", "domain": false, "grid": false}},
            "color": {"field": "group", "type": "nominal", "scale": {"domain": ["Changers", "Persistent Low", "Persistent High"], "range": ["#f5a000", "#cc1418", "#1428e6"]},
                      "legend": {"orient": "none", "legendX": 4, "legendY": 214, "direction": "horizontal", "title": null, "symbolType": "circle", "symbolSize": 121, "symbolOpacity": 1, "symbolStrokeWidth": 0, "labelFont": "Roboto", "labelFontSize": 9, "labelFontWeight": "bold", "labelColor": "#111", "labelOffset": 1.5, "columnPadding": 5, "padding": 0}}
          }
        },
        {
          "data": {"name": "dmCentroids"},
          "transform": [{"filter": "datum.cluster === 'Changers'"}],
          "mark": {"type": "point", "filled": false, "stroke": "#f5a000", "strokeWidth": 2.5, "opacity": 1, "size": 156,
                   "shape": "M 0.84 0 C 0.84 0.5523 0.4639 1 0 1 C -0.4639 1 -0.84 0.5523 -0.84 0 C -0.84 -0.5523 -0.4639 -1 0 -1 C 0.4639 -1 0.84 -0.5523 0.84 0 Z"},
          "encoding": {"x": {"field": "x", "type": "quantitative", "axis": null}, "y": {"field": "y", "type": "quantitative", "axis": null}}
        },
        {
          "data": {"name": "dmCentroids"},
          "transform": [{"filter": "datum.cluster === 'Persistent Low'"}],
          "mark": {"type": "point", "filled": false, "stroke": "#cc1418", "strokeWidth": 2.5, "opacity": 1, "size": 132,
                   "shape": "M 1 0 C 1 0.5523 0.5523 1 0 1 C -0.5523 1 -1 0.5523 -1 0 C -1 -0.5523 -0.5523 -1 0 -1 C 0.5523 -1 1 -0.5523 1 0 Z"},
          "encoding": {"x": {"field": "x", "type": "quantitative", "axis": null}, "y": {"field": "y", "type": "quantitative", "axis": null}}
        },
        {
          "data": {"name": "dmCentroids"},
          "transform": [{"filter": "datum.cluster === 'Persistent High'"}],
          "mark": {"type": "point", "filled": false, "stroke": "#1428e6", "strokeWidth": 2.5, "opacity": 1, "size": 380,
                   "shape": "M 1 0 C 1 0.4363 0.5523 0.79 0 0.79 C -0.5523 0.79 -1 0.4363 -1 0 C -1 -0.4363 -0.5523 -0.79 0 -0.79 C 0.5523 -0.79 1 -0.4363 1 0 Z"},
          "encoding": {"x": {"field": "x", "type": "quantitative", "axis": null}, "y": {"field": "y", "type": "quantitative", "axis": null}}
        },
        {
          "data": {"name": "dmCentroids"},
          "mark": {"type": "point", "filled": true, "color": "#000", "size": 10, "opacity": 1},
          "encoding": {
            "x": {"field": "x", "type": "quantitative", "axis": {"orient": "bottom", "title": "C", "labels": false, "ticks": false, "domain": false, "grid": false, "titleFont": "Liberation Sans", "titleFontSize": 14, "titleFontWeight": "bold", "titleColor": "#000", "titleX": -32, "titleY": -174, "titleAlign": "left", "titleBaseline": "alphabetic", "titleAngle": 0}},
            "y": {"field": "y", "type": "quantitative", "axis": null}
          }
        }
      ]
    },
    {
      "width": 446, "height": 120,
      "data": {"name": "dmEffects"},
      "title": {"text": "Default Mode", "font": "Lato", "fontSize": 14, "fontWeight": "normal", "color": "#000", "anchor": "middle", "frame": "group", "baseline": "alphabetic", "offset": -37, "dx": -10},
      "resolve": {"axis": {"x": "independent"}},
      "encoding": {
        "y": {"field": "value", "type": "quantitative", "scale": {"domain": [0, 0.003009], "nice": false, "zero": true},
              "axis": {"values": [0, 0.0005, 0.001, 0.0015, 0.002, 0.0025], "format": "~f", "domain": false, "ticks": false, "grid": false, "labelFont": "Lato", "labelFontSize": 9.5, "labelColor": "#595959", "labelPadding": 9,
                       "title": ["Relative Effect Size", "δ = Δ pseudo R²"], "titleFont": "Lato", "titleFontSize": 10.5, "titleFontWeight": "normal", "titleColor": "#404040", "titleX": -55, "titleY": 62, "titleLineHeight": 12}},
        "color": {"field": "comparison", "type": "nominal", "scale": {"domain": ["Persistent High vs Changers", "Persistent High vs Persistent Low", "Changers vs Persistent Low"], "range": ["#0d1ec4", "#66dd1a", "#5a5a5a"]},
                  "legend": {"orient": "none", "legendX": 285, "legendY": 15, "title": null, "direction": "vertical", "symbolType": "stroke", "symbolStrokeWidth": 3, "symbolSize": 160, "labelFont": "Lato", "labelFontSize": 9.5, "labelColor": "#222", "rowPadding": 1, "labelOffset": 1, "padding": 0}},
        "order": {"field": "i", "type": "quantitative"}
      },
      "layer": [
        {
          "mark": {"type": "line", "strokeWidth": 2.6},
          "encoding": {
            "x": {"field": "region", "type": "ordinal", "sort": null, "scale": {"type": "point", "padding": 0.5},
                  "axis": {"title": null, "labelAngle": -45, "labelFont": "Lato", "labelFontSize": 8.5, "labelColor": "#595959", "ticks": false, "domainColor": "#d9d9d9", "domainWidth": 1, "labelPadding": 5, "grid": false, "labelOverlap": false}}
          }
        },
        {
          "mark": {"type": "point", "filled": true, "size": 7, "opacity": 1},
          "encoding": {
            "x": {"field": "region", "type": "ordinal", "sort": null, "axis": {"orient": "bottom", "title": "D", "labels": false, "ticks": false, "domain": false, "grid": false, "titleFont": "Liberation Sans", "titleFontSize": 14, "titleFontWeight": "bold", "titleColor": "#000", "titleX": -70, "titleY": -112, "titleAlign": "left", "titleBaseline": "alphabetic", "titleAngle": 0}}
          }
        }
      ]
    }
  ]
}
